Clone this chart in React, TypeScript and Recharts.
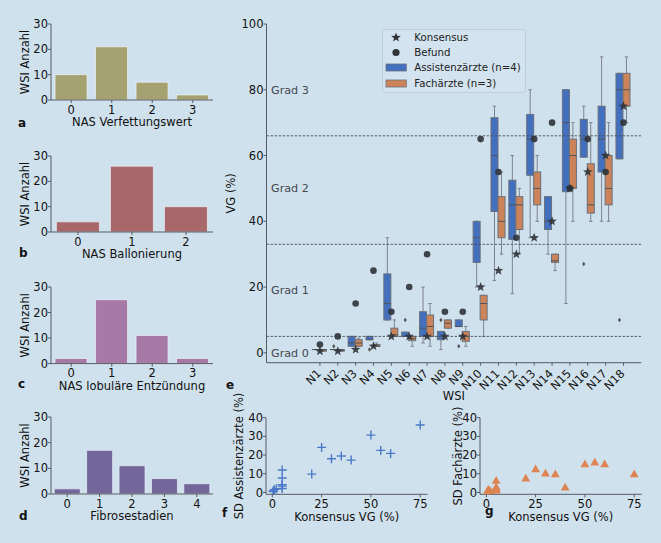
import React from 'react';
import {
  BarChart,
  Bar,
  ComposedChart,
  ScatterChart,
  Scatter,
  XAxis,
  YAxis,
  ReferenceLine,
  Legend,
} from 'recharts';

const BG = '#d0e1ee';
const SPINE = '#555b63';
const INK = '#111111';
const FONT = "'DejaVu Sans', sans-serif";
const BLUE = '#436fbf';
const ORANGE = '#cd8359';

// a-d: Anzahl WSI pro Score
const fettCats = ['0', '1', '2', '3'];
const fettCounts = [10, 21, 7, 2];
const ballonCats = ['0', '1', '2'];
const ballonCounts = [4, 26, 10];
const entzCats = ['0', '1', '2', '3'];
const entzCounts = [2, 25, 11, 2];
const fibroCats = ['0', '1', '2', '3', '4'];
const fibroCounts = [2, 17, 11, 6, 4];

// e: Verfettungsgrad (VG) pro WSI
const wsiNames = ['N1', 'N2', 'N3', 'N4', 'N5', 'N6', 'N7', 'N8', 'N9', 'N10', 'N11', 'N12', 'N13', 'N14', 'N15', 'N16', 'N17', 'N18'];
const konsensus = [0.5, 0.5, 1, 2, 5, 5, 5, 5, 5, 20, 25, 30, 35, 40, 50, 55, 60, 75];
const befund = [2.5, 5, 15, 25, 12.5, 20, 30, 12.5, 12.5, 65, 55, 35, 65, 70, 50, 65, 55, 70];
// [untere Antenne, Q1, Median, Q3, obere Antenne]
const assistBox = [
  [1, 1, 1, 1, 1],
  [1, 1, 1, 1, 1],
  [2, 2, 3, 5, 5],
  [4, 4, 4, 5, 5],
  [10, 10, 15, 24, 35],
  [5, 5, 5, 6.3, 6.3],
  [3, 5, 7.5, 12.5, 20],
  [1, 4, 5, 6.5, 6.5],
  [8, 8, 8, 10, 10],
  [20, 27.5, 35, 40, 40],
  [22, 43, 60, 71.5, 75],
  [18, 34.5, 45, 52.5, 60],
  [35, 54, 65, 72.5, 80],
  [30, 37.5, 40, 47.5, 47.5],
  [15, 49, 70, 80, 80],
  [59.5, 59.5, 65, 71, 75],
  [40, 55, 65, 75, 90],
  [59, 59, 80, 85, 85],
];
const assistOutliers = [[], [2], [], [1], [], [10], [], [10], [2], [], [], [], [], [], [], [27], [], [10]];
const fachBox = [
  [0.5, 0.5, 1, 1, 1],
  [0.5, 0.5, 0.8, 1, 1],
  [2, 2, 3, 4, 4.5],
  [2, 2, 2, 2.5, 3],
  [5, 5, 5.5, 7.5, 10],
  [2, 3.7, 4.3, 5, 5],
  [2, 5, 8, 11.5, 15],
  [7.5, 7.5, 9, 10, 10],
  [2, 3.5, 5, 6.5, 8],
  [5, 10, 15, 17.5, 17.5],
  [30, 35, 40, 47.5, 55],
  [30, 37.5, 45, 47.5, 50],
  [40, 45, 50, 55, 60],
  [25, 27.5, 28, 30, 30],
  [40, 50, 60, 65, 70],
  [40, 42.5, 45, 57.5, 70],
  [40, 45, 50, 60, 70],
  [70, 75, 80, 85, 90],
];
const fachOutliers = [[], [], [], [], [], [], [], [], [], [], [], [], [], [], [], [], [], []];
const gradeCuts = [5, 33, 66];
const gradeNames = ['Grad 0', 'Grad 1', 'Grad 2', 'Grad 3'];
const gradeLabelAt = [0, 19, 50, 80];
const legendNames = ['Konsensus', 'Befund', 'Assistenzärzte (n=4)', 'Fachärzte (n=3)'];

// f, g: Standardabweichung der Schätzungen
const sdAssist = [0.5, 0.8, 1.5, 2, 12, 2.1, 7.7, 4.1, 3.4, 9.8, 24.1, 18, 19.5, 17.3, 30.7, 22.5, 20.9, 36.1];
const sdFach = [0.4, 0.3, 1.6, 0.9, 2.9, 1.2, 6.3, 1.4, 2.3, 7.5, 12.5, 10.2, 9.8, 2.7, 15.2, 16.1, 15.2, 9.8];

const E_MIN = -3;
const E_MAX = 100;

const tickStyle = { fill: INK, fontSize: 11.5, fontFamily: FONT };

const xTitle = (text: string, gap: number) => (props: any) => {
  const vb = props.viewBox || {};
  return (
    <text x={vb.x + vb.width / 2} y={vb.y + gap} textAnchor="middle" dominantBaseline="central"
      fontSize={11.5} fontFamily={FONT} fill={INK}>{text}</text>
  );
};

const yTitle = (text: string, gap: number) => (props: any) => {
  const vb = props.viewBox || {};
  const cx = vb.x + vb.width - gap;
  const cy = vb.y + vb.height / 2;
  return (
    <text x={cx} y={cy} transform={`rotate(-90, ${cx}, ${cy})`} textAnchor="middle" dominantBaseline="central"
      fontSize={11.5} fontFamily={FONT} fill={INK}>{text}</text>
  );
};

function CountPanel({ cats, counts, color, title, plotTop, plotHeight }: any) {
  const data = cats.map((c: string, i: number) => ({ cat: c, n: counts[i] }));
  return (
    <div style={{ position: 'absolute', left: 0, top: plotTop - 24 }}>
      <BarChart width={230} height={24 + plotHeight + 36} data={data}
        margin={{ top: 24, right: 17, bottom: 0, left: 0 }} barCategoryGap="10%">
        <XAxis dataKey="cat" height={36} tickSize={3} tickMargin={2.5} stroke={SPINE} tick={tickStyle}
          label={xTitle(title, 22)} />
        <XAxis xAxisId="t" dataKey="cat" orientation="top" height={0} tick={false} tickLine={false} stroke={SPINE} />
        <YAxis width={51} domain={[0, 30]} ticks={[0, 10, 20, 30]} tickSize={3} tickMargin={0} stroke={SPINE}
          tick={tickStyle} label={yTitle('WSI Anzahl', 25.7)} />
        <YAxis yAxisId="r" orientation="right" width={0} domain={[0, 1]} tick={false} tickLine={false} stroke={SPINE} />
        <Bar dataKey="n" fill={color} stroke="rgba(235,242,248,0.7)" strokeWidth={1} isAnimationActive={false} />
      </BarChart>
    </div>
  );
}

const boxShape = (statKey: string, outKey: string, fill: string) => (props: any) => {
  const { x, y, width, height, payload } = props;
  if (!payload || !height) return <g />;
  const [lo, q1, med, q3, hi] = payload[statKey];
  const py = (v: number) => y + ((E_MAX - v) / (E_MAX - E_MIN)) * height;
  const cx = x + width / 2;
  const cap = width / 4;
  const top = py(q3);
  const bottom = py(q1);
  const wc = '#7d858e';
  return (
    <g>
      <line x1={cx} x2={cx} y1={py(hi)} y2={top} stroke={wc} strokeWidth={1} />
      <line x1={cx} x2={cx} y1={bottom} y2={py(lo)} stroke={wc} strokeWidth={1} />
      <line x1={cx - cap} x2={cx + cap} y1={py(hi)} y2={py(hi)} stroke={wc} strokeWidth={1} />
      <line x1={cx - cap} x2={cx + cap} y1={py(lo)} y2={py(lo)} stroke={wc} strokeWidth={1} />
      <rect x={x} y={top} width={width} height={Math.max(bottom - top, 0.01)} fill={fill}
        stroke="#68707a" strokeWidth={1} />
      <line x1={x} x2={x + width} y1={py(med)} y2={py(med)} stroke="#4d545c" strokeWidth={1} />
      {payload[outKey].map((o: number, k: number) => {
        const oy = py(o);
        return <path key={k} d={`M${cx},${oy - 2.2}L${cx + 1.6},${oy}L${cx},${oy + 2.2}L${cx - 1.6},${oy}Z`} fill="#555" />;
      })}
    </g>
  );
};

const starPath = (cx: number, cy: number, R: number, r: number) => {
  let d = '';
  for (let k = 0; k < 10; k++) {
    const a = (-90 + k * 36) * (Math.PI / 180);
    const rad = k % 2 === 0 ? R : r;
    d += `${k === 0 ? 'M' : 'L'}${cx + rad * Math.cos(a)},${cy + rad * Math.sin(a)}`;
  }
  return d + 'Z';
};

const StarShape = (p: any) => <path d={starPath(p.cx, p.cy, 5, 2.1)} fill="#2f3338" fillOpacity={0.9} />;
const DotShape = (p: any) => <circle cx={p.cx} cy={p.cy} r={3.3} fill="#2f3338" fillOpacity={0.9} />;

const RotTick = (props: any) => {
  const { x, y, payload } = props;
  const ax = x + 2;
  const ay = y + 6;
  return (
    <text x={ax} y={ay} transform={`rotate(-45, ${ax}, ${ay})`} textAnchor="end" fontSize={11.5}
      fontFamily={FONT} fill={INK}>{payload.value}</text>
  );
};

const legendMarker = (i: number) => {
  if (i === 0) return <path d={starPath(13, 7.5, 5, 2.1)} fill="#2f3338" />;
  if (i === 1) return <circle cx={13} cy={7.5} r={3.6} fill="#2f3338" />;
  return <rect x={3} y={4} width={20.3} height={7} fill={i === 2 ? BLUE : ORANGE} stroke="#68707a" strokeWidth={0.8} />;
};

const LegendBox = () => (
  <div style={{
    position: 'relative', width: 144, height: 64, border: '1px solid #c0cfdb', borderRadius: 3,
    background: 'rgba(255,255,255,0.08)', boxSizing: 'border-box', fontFamily: FONT, fontSize: 10.2, color: '#222',
  }}>
    {legendNames.map((name, i) => (
      <div key={name} style={{
        position: 'absolute', left: 0, top: -0.5 + i * 15.35, height: 15, width: '100%',
        display: 'flex', alignItems: 'center', whiteSpace: 'nowrap',
      }}>
        <svg width={30} height={15} style={{ flex: 'none' }}>{legendMarker(i)}</svg>
        <span style={{ marginLeft: 1.6 }}>{name}</span>
      </div>
    ))}
  </div>
);

function BoxPanel() {
  const rows = wsiNames.map((name, i) => ({
    wsi: name,
    konsensus: konsensus[i],
    befund: befund[i],
    assist: assistBox[i],
    assistOut: assistOutliers[i],
    fach: fachBox[i],
    fachOut: fachOutliers[i],
  }));
  return (
    <div style={{ position: 'absolute', left: 200, top: 10 }}>
      <ComposedChart width={450} height={400} data={rows} margin={{ top: 14, right: 8.7, bottom: 0, left: 0 }}
        barCategoryGap="8%" barGap={0}>
        <XAxis dataKey="wsi" height={47.3} interval={0} tickSize={3} tickMargin={2.5} stroke={SPINE}
          padding={{ left: 44.5, right: 8.9 }} tick={<RotTick />} label={xTitle('WSI', 33.5)} />
        <XAxis xAxisId="t" dataKey="wsi" orientation="top" height={0} tick={false} tickLine={false} stroke={SPINE} />
        <YAxis width={66.5} domain={[E_MIN, E_MAX]} ticks={[0, 20, 40, 60, 80, 100]} tickSize={3} tickMargin={0}
          stroke={SPINE} tick={tickStyle} allowDataOverflow label={yTitle('VG (%)', 35.5)} />
        <YAxis yAxisId="r" orientation="right" width={0} domain={[0, 1]} tick={false} tickLine={false} stroke={SPINE} />
        {gradeCuts.map((v) => (
          <ReferenceLine key={`cut${v}`} y={v} stroke="#4b525a" strokeDasharray="2.5 1.5" strokeWidth={0.9} />
        ))}
        {gradeNames.map((name, i) => (
          <ReferenceLine key={name} y={gradeLabelAt[i]} stroke="none"
            label={{ value: name, position: 'insideLeft', offset: 4.5, fill: '#444a50', fontSize: 11.2, fontFamily: FONT }} />
        ))}
        <Bar dataKey={() => [E_MIN, E_MAX]} shape={boxShape('assist', 'assistOut', BLUE)} isAnimationActive={false}
          activeBar={false} />
        <Bar dataKey={() => [E_MIN, E_MAX]} shape={boxShape('fach', 'fachOut', ORANGE)} isAnimationActive={false}
          activeBar={false} />
        <Scatter dataKey="befund" shape={DotShape} isAnimationActive={false} />
        <Scatter dataKey="konsensus" shape={StarShape} isAnimationActive={false} />
        <Legend layout="vertical" verticalAlign="middle" align="center" content={() => <LegendBox />}
          wrapperStyle={{ left: 181.7, top: 19.3 }} />
      </ComposedChart>
    </div>
  );
}

const PlusShape = (p: any) => (
  <path d={`M${p.cx - 4.5},${p.cy}h9M${p.cx},${p.cy - 4.5}v9`} stroke="#4b78c8" strokeWidth={1.4} fill="none" />
);
const TriShape = (p: any) => (
  <path d={`M${p.cx},${p.cy - 4.6}L${p.cx + 4.4},${p.cy + 3.2}L${p.cx - 4.4},${p.cy + 3.2}Z`} fill="#dd8452" />
);

function SdPanel({ sd, shape, title, plotLeft, titleGap }: any) {
  const data = konsensus.map((k, i) => ({ k, sd: sd[i] }));
  return (
    <div style={{ position: 'absolute', left: plotLeft - 60, top: 390 }}>
      <ScatterChart width={231.5} height={153} margin={{ top: 27.7, right: 10, bottom: 0, left: 0 }}>
        <XAxis type="number" dataKey="k" domain={[-3.2, 78.7]} ticks={[0, 25, 50, 75]} height={48.7} tickSize={3}
          tickMargin={2.5} stroke={SPINE} tick={tickStyle} allowDataOverflow label={xTitle('Konsensus VG (%)', 23)} />
        <XAxis xAxisId="t" type="number" orientation="top" domain={[0, 1]} height={0} tick={false} tickLine={false}
          stroke={SPINE} />
        <YAxis type="number" dataKey="sd" domain={[-1, 40]} ticks={[0, 10, 20, 30, 40]} width={60} tickSize={3}
          tickMargin={0} stroke={SPINE} tick={tickStyle} allowDataOverflow label={yTitle(title, titleGap)} />
        <YAxis yAxisId="r" orientation="right" width={0} domain={[0, 1]} tick={false} tickLine={false} stroke={SPINE} />
        <Scatter data={data} shape={shape} isAnimationActive={false} />
      </ScatterChart>
    </div>
  );
}

const panelLetters = [
  { t: 'a', x: 18, y: 127 },
  { t: 'b', x: 19, y: 256.5 },
  { t: 'c', x: 18, y: 388 },
  { t: 'd', x: 19, y: 520 },
  { t: 'e', x: 226, y: 389 },
  { t: 'f', x: 222, y: 517 },
  { t: 'g', x: 485, y: 515 },
];

export default function App() {
  return (
    <div style={{ position: 'fixed', left: 0, top: 0, width: 661, height: 543, background: BG, overflow: 'hidden' }}>
      <CountPanel cats={fettCats} counts={fettCounts} color="#a6a170" title="NAS Verfettungswert" plotTop={24} plotHeight={76} />
      <CountPanel cats={ballonCats} counts={ballonCounts} color="#a8676a" title="NAS Ballonierung" plotTop={155.7} plotHeight={76} />
      <CountPanel cats={entzCats} counts={entzCounts} color="#a679a6" title="NAS lobuläre Entzündung" plotTop={286.7} plotHeight={76.6} />
      <CountPanel cats={fibroCats} counts={fibroCounts} color="#72669b" title="Fibrosestadien" plotTop={417.3} plotHeight={77} />
      <BoxPanel />
      <SdPanel sd={sdAssist} shape={PlusShape} title="SD Assistenzärzte (%)" plotLeft={266} titleGap={27} />
      <SdPanel sd={sdFach} shape={TriShape} title="SD Fachärzte (%)" plotLeft={480} titleGap={22} />
      <svg width={661} height={543} style={{ position: 'absolute', left: 0, top: 0, pointerEvents: 'none' }}>
        {panelLetters.map((l) => (
          <text key={l.t} x={l.x} y={l.y} fontSize={12} fontWeight="bold" fontFamily={FONT} fill={INK}>{l.t}</text>
        ))}
      </svg>
    </div>
  );
}
